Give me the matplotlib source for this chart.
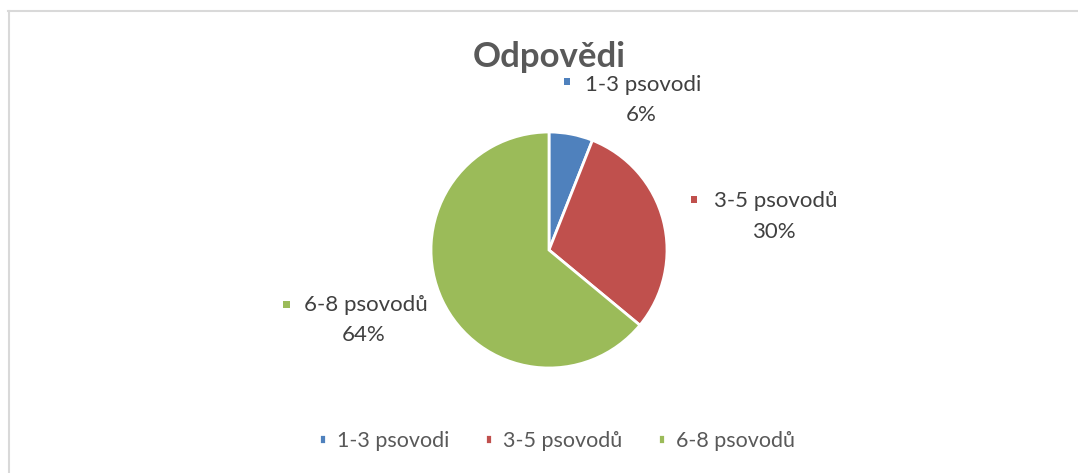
import matplotlib
matplotlib.use("Agg")
import matplotlib.pyplot as plt
from matplotlib.patches import Rectangle
from matplotlib.lines import Line2D

title = "Odpovědi"
categories = ["1-3 psovodi", "3-5 psovodů", "6-8 psovodů"]
values = [6, 30, 64]
colors = ["#4f81bd", "#c0504d", "#9bbb59"]

W, H = 1078, 473
plt.rcParams['font.family'] = ['Lato', 'DejaVu Sans']
fig = plt.figure(figsize=(W / 100, H / 100), dpi=100)

def fx(x):
    return x / W

def fy(y):
    return 1 - y / H

# pie axes: centre (549, 250), radius 118 px
cx, cy, r = 549, 250, 118
ax = fig.add_axes([fx(cx - r), fy(cy + r), 2 * r / W, 2 * r / H])
wedges, _ = ax.pie(values, colors=colors, startangle=90, counterclock=False,
                   wedgeprops=dict(edgecolor="white", linewidth=2))
ax.set_aspect("equal")
ax.set_xlim(-1, 1)
ax.set_ylim(-1, 1)

fig.text(fx(549), fy(57), title, ha="center", va="center", fontsize=25,
         fontweight="bold", color="#595959")

# data labels: (marker x, marker y, text centre x, line1 y, line2 y)
label_pos = [(567, 82, 643, 85, 115),
             (694, 200, 776, 201, 232),
             (286, 304, 366, 305, 335)]
tcol = "#404040"
total = sum(values)
for (mx, my, tx, y1, y2), cat, v, c in zip(label_pos, categories, values, colors):
    s = 7
    fig.patches.append(Rectangle((fx(mx - s / 2), fy(my + s / 2)), s / W, s / H,
                                 transform=fig.transFigure, facecolor=c,
                                 edgecolor="none"))
    fig.text(fx(tx), fy(y1), cat, ha="center", va="center", fontsize=16, color=tcol)
    fig.text(fx(tx - 2), fy(y2), f"{round(v / total * 100)}%", ha="center",
             va="center", fontsize=16, color=tcol)

leg = fig.legend(wedges, categories, loc="center", bbox_to_anchor=(fx(557), fy(441)),
                 ncol=3, frameon=False, fontsize=15.5, handlelength=0.33,
                 handleheight=0.33, handletextpad=0.5, columnspacing=1.65)
for t in leg.get_texts():
    t.set_color("#595959")

# chart-area border (top and left visible)
bc = "#d9d9d9"
fig.lines.append(Line2D([fx(8), fx(1078)], [fy(11.5), fy(11.5)], transform=fig.transFigure,
                        color=bc, linewidth=1.5))
fig.lines.append(Line2D([fx(8.5), fx(8.5)], [fy(11), fy(473)], transform=fig.transFigure,
                        color=bc, linewidth=1.5))

fig.savefig("out.png", dpi=100, facecolor="white")
